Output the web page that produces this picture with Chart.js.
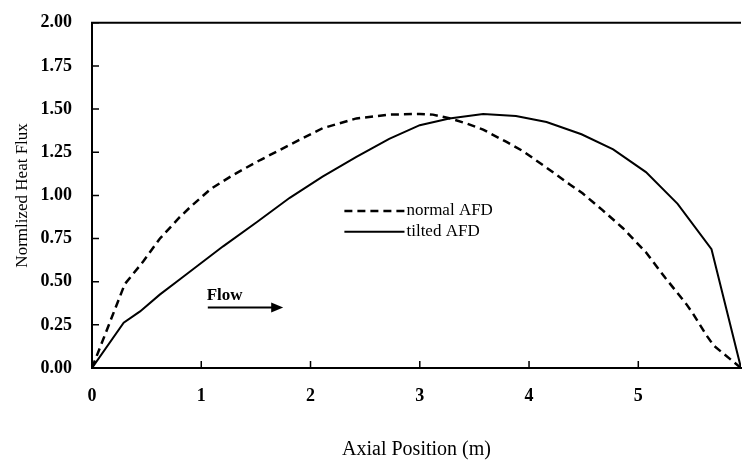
<!DOCTYPE html>
<html><head><meta charset="utf-8">
<script src="https://cdn.jsdelivr.net/npm/chart.js@4/dist/chart.umd.min.js"></script>
<style>html,body{margin:0;padding:0;background:#fff}#wrap{width:744px;height:466px}</style>
</head><body><div id="wrap"><canvas id="c" width="744" height="466"></canvas></div>
<script>
// ---- data ----
const normalX = [0, 0.30, 0.47, 0.62, 0.80, 0.90, 1.09, 1.29, 1.54, 1.81, 2.11, 2.42, 2.72, 3.00, 3.12, 3.27, 3.43, 3.58, 3.79, 3.94, 4.16, 4.37, 4.49, 4.67, 4.86, 5.07, 5.25, 5.44, 5.50, 5.62, 5.69, 5.94];
const normalY = [0, 0.486, 0.618, 0.749, 0.872, 0.933, 1.039, 1.118, 1.205, 1.293, 1.389, 1.446, 1.468, 1.472, 1.468, 1.447, 1.416, 1.381, 1.311, 1.258, 1.161, 1.065, 1.012, 0.916, 0.81, 0.67, 0.52, 0.37, 0.316, 0.193, 0.13, 0];
const tiltedX = [0, 0.29, 0.44, 0.62, 0.82, 1.20, 1.51, 1.81, 2.11, 2.42, 2.72, 3.00, 3.27, 3.58, 3.88, 4.16, 4.48, 4.77, 5.07, 5.36, 5.67, 5.94];
const tiltedY = [0, 0.262, 0.328, 0.425, 0.521, 0.705, 0.846, 0.986, 1.109, 1.223, 1.328, 1.407, 1.446, 1.472, 1.46, 1.425, 1.354, 1.267, 1.135, 0.951, 0.688, 0];
const seriesLabels = ['normal AFD', 'tilted AFD'];
const xTicks = [0, 1, 2, 3, 4, 5];
const yTicks = [0, 0.25, 0.5, 0.75, 1.0, 1.25, 1.5, 1.75, 2.0];
const xRange = [0, 5.94];
const yRange = [0, 2];
const xTitle = 'Axial Position (m)';
const yTitle = 'Normlized Heat Flux';
const flowLabel = 'Flow';

const SERIF = '"Liberation Serif", "Times New Roman", serif';
const toPts = (xs, ys) => xs.map((x, i) => ({x: x, y: ys[i]}));

const framePlugin = {
  id: 'frame',
  afterDraw(chart) {
    const ctx = chart.ctx, a = chart.chartArea;
    const xs = chart.scales.x, ys = chart.scales.y;
    ctx.save();
    ctx.strokeStyle = '#000';
    // top border
    ctx.lineWidth = 2;
    ctx.beginPath(); ctx.moveTo(a.left - 1, a.top); ctx.lineTo(a.right, a.top); ctx.stroke();
    // inward tick marks
    ctx.lineWidth = 1.5;
    ctx.beginPath();
    yTicks.forEach(v => { const p = ys.getPixelForValue(v); ctx.moveTo(a.left, p); ctx.lineTo(a.left + 7, p); });
    xTicks.forEach(v => { const p = xs.getPixelForValue(v); ctx.moveTo(p, a.bottom); ctx.lineTo(p, a.bottom - 7); });
    ctx.stroke();
    // legend inside plot
    const ds = chart.data.datasets;
    const lx0 = xs.getPixelForValue(2.31), lx1 = xs.getPixelForValue(2.86);
    const rows = [0.91, 0.79];
    ctx.font = '17px ' + SERIF;
    ctx.fillStyle = '#000';
    ctx.textBaseline = 'middle';
    ds.forEach((d, i) => {
      const py = ys.getPixelForValue(rows[i]);
      ctx.setLineDash(d.borderDash || []);
      ctx.lineWidth = d.borderWidth;
      ctx.beginPath(); ctx.moveTo(lx0, py); ctx.lineTo(lx1, py); ctx.stroke();
      ctx.setLineDash([]);
      ctx.fillText(d.label, lx1 + 2, py);
    });
    // Flow arrow
    const fx = xs.getPixelForValue(1.05), fy = ys.getPixelForValue(0.42);
    ctx.font = 'bold 17px ' + SERIF;
    ctx.textBaseline = 'middle';
    ctx.fillText(flowLabel, fx, fy);
    const ay = ys.getPixelForValue(0.35);
    const ax0 = xs.getPixelForValue(1.06), ax1 = xs.getPixelForValue(1.75);
    ctx.lineWidth = 2;
    ctx.beginPath(); ctx.moveTo(ax0, ay); ctx.lineTo(ax1 - 10, ay); ctx.stroke();
    ctx.beginPath(); ctx.moveTo(ax1, ay); ctx.lineTo(ax1 - 12, ay - 5); ctx.lineTo(ax1 - 12, ay + 5); ctx.closePath(); ctx.fill();
    ctx.restore();
  }
};

new Chart(document.getElementById('c'), {
  type: 'scatter',
  data: {
    datasets: [
      {label: seriesLabels[0], data: toPts(normalX, normalY), showLine: true, borderColor: '#000', borderWidth: 2.5, borderDash: [8, 5], pointRadius: 0, tension: 0, fill: false},
      {label: seriesLabels[1], data: toPts(tiltedX, tiltedY), showLine: true, borderColor: '#000', borderWidth: 2, pointRadius: 0, tension: 0, fill: false}
    ]
  },
  options: {
    responsive: false, animation: false, devicePixelRatio: 1,
    layout: {padding: {left: 0, right: 3, top: 16, bottom: 0}},
    plugins: {legend: {display: false}, tooltip: {enabled: false}},
    scales: {
      x: {
        type: 'linear', min: xRange[0], max: xRange[1],
        afterFit(s) { s.height = 98; },
        afterBuildTicks(s) { s.ticks = xTicks.map(v => ({value: v})); },
        grid: {display: false},
        border: {display: true, color: '#000', width: 2},
        ticks: {padding: 10, color: '#000', autoSkip: false, maxRotation: 0, font: {family: SERIF, size: 18, weight: 'bold'}, callback: v => String(v)},
        title: {display: true, text: xTitle, color: '#000', font: {family: SERIF, size: 20}, padding: {top: 0, bottom: 4}}
      },
      y: {
        type: 'linear', min: yRange[0], max: yRange[1],
        afterFit(s) { s.width = 92; },
        afterBuildTicks(s) { s.ticks = yTicks.map(v => ({value: v})); },
        grid: {display: false},
        border: {display: true, color: '#000', width: 2},
        ticks: {padding: 12, color: '#000', autoSkip: false, font: {family: SERIF, size: 18, weight: 'bold'}, callback: v => Number(v).toFixed(2)},
        title: {display: true, text: yTitle, color: '#000', font: {family: SERIF, size: 17}, padding: {top: 12, bottom: 0}}
      }
    }
  },
  plugins: [framePlugin]
});
</script></body></html>
